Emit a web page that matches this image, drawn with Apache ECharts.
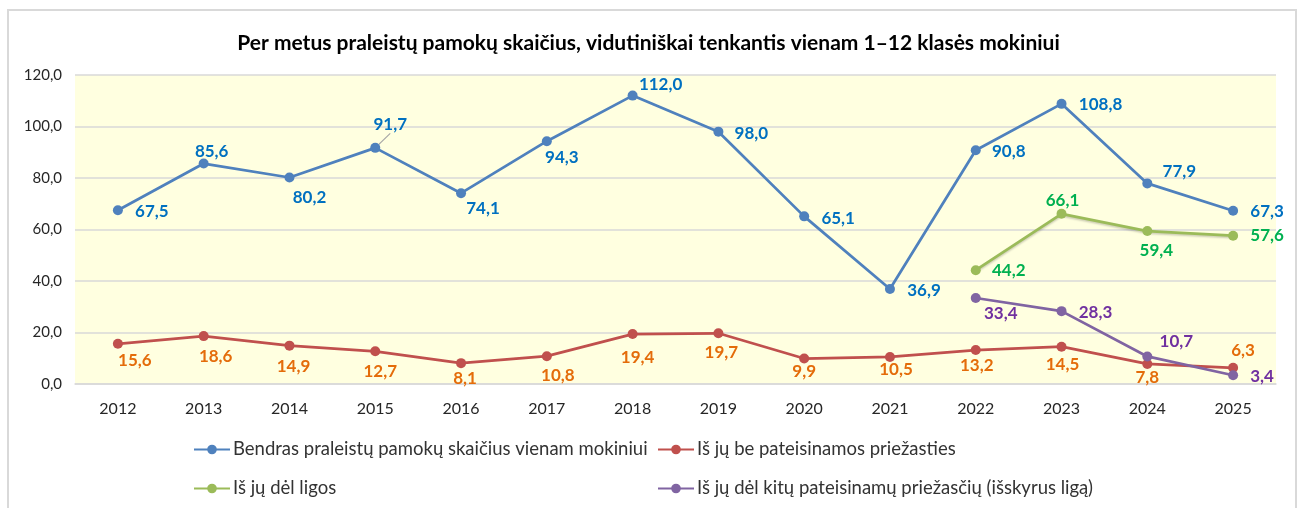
<!DOCTYPE html>
<html>
<head>
<meta charset="utf-8">
<title>Praleistos pamokos</title>
<script src="https://cdn.jsdelivr.net/npm/echarts@6/dist/echarts.min.js"></script>
<style>
  html, body { margin: 0; padding: 0; background: #ffffff; }
  #chart { width: 1297px; height: 508px; }
</style>
</head>
<body>
<div id="chart"></div>
<script>
// Years on the category axis
const years = ['2012','2013','2014','2015','2016','2017','2018','2019','2020','2021','2022','2023','2024','2025'];

// Lessons missed per student per year
const totalMissed   = [67.5, 85.6, 80.2, 91.7, 74.1, 94.3, 112.0, 98.0, 65.1, 36.9, 90.8, 108.8, 77.9, 67.3];
const unexcused     = [15.6, 18.6, 14.9, 12.7, 8.1, 10.8, 19.4, 19.7, 9.9, 10.5, 13.2, 14.5, 7.8, 6.3];
const illness       = [null, null, null, null, null, null, null, null, null, null, 44.2, 66.1, 59.4, 57.6];
const otherExcused  = [null, null, null, null, null, null, null, null, null, null, 33.4, 28.3, 10.7, 3.4];

// Y axis tick range
const yMin = 0, yMax = 120, yStep = 20;

const seriesNames = [
  'Bendras praleistų pamokų skaičius vienam mokiniui',
  'Iš jų be pateisinamos priežasties',
  'Iš jų dėl ligos',
  'Iš jų dėl kitų pateisinamų priežasčių (išskyrus ligą)'
];

// Label placement around each point, [dx, dy] from the marker centre
const totalOffsets = [[34,1],[8,-12],[20,20],[15,-23],[22,15],[15,16],[28,-11],[33,2],[34,2],[34,2],[33,1],[39,1],[32,-12],[34,1]];
const unexcusedOffsets = [[17,17],[12,20],[4,21],[5,20],[4,15],[11,19],[5,23],[3,19],[0,13],[6,13],[1,16],[1,18],[0,14],[10,-17]];
const illnessOffsets = [null,null,null,null,null,null,null,null,null,null,[33,0],[1,-13],[9,19],[34,0]];
const otherOffsets = [null,null,null,null,null,null,null,null,null,null,[25,16],[34,1],[29,-15],[29,1]];

// Points whose label is tied back to the marker with a short leader
const leaderPoints = { total: [3] };

const fmt = v => v.toFixed(1).replace('.', ',');
const FONT = 'Lato, "Open Sans", sans-serif';

function withLabels(values, offsets, color, leaders) {
  return values.map((v, i) => {
    if (v === null) return null;
    const item = {
      value: v,
      label: {
        show: true,
        position: 'inside',
        offset: offsets[i],
        formatter: p => fmt(p.value),
        color: color,
        fontFamily: FONT,
        fontWeight: 'bold',
        fontSize: 17
      }
    };
    if (leaders && leaders.indexOf(i) >= 0) {
      item.labelLine = { show: true, smooth: false, lineStyle: { color: '#a6a6a6', width: 1.2 } };
    }
    return item;
  });
}

function lineSeries(name, data, color, extra) {
  return Object.assign({
    name: name,
    type: 'line',
    data: data,
    symbol: 'circle',
    symbolSize: 10,
    connectNulls: false,
    lineStyle: { color: color, width: 2.75 },
    itemStyle: { color: color },
    emphasis: { disabled: true },
    z: 3
  }, extra || {});
}

const legendBase = {
  top: 440,
  orient: 'vertical',
  padding: 0,
  itemWidth: 36,
  itemHeight: 12,
  itemGap: 20,
  textStyle: { fontFamily: FONT, fontSize: 18.5, color: '#333333', padding: [0, 0, 0, -2] }
};

const chart = echarts.init(document.getElementById('chart'), null, { renderer: 'canvas' });

chart.setOption({
  animation: false,
  backgroundColor: '#ffffff',
  textStyle: { fontFamily: FONT },
  title: {
    text: 'Per metus praleistų pamokų skaičius, vidutiniškai tenkantis vienam 1–12 klasės mokiniui',
    left: 'center',
    top: 28,
    textStyle: { fontFamily: FONT, fontWeight: 'bold', fontSize: 21, color: '#000000' }
  },
  graphic: [{
    type: 'rect',
    shape: { x: 8, y: 10, width: 1288, height: 510 },
    style: { fill: 'none', stroke: '#d9d9d9', lineWidth: 2 },
    silent: true,
    z: -1
  }],
  legend: [
    Object.assign({ left: 193, data: [seriesNames[0], seriesNames[2]] }, legendBase),
    Object.assign({ left: 657, data: [seriesNames[1], seriesNames[3]] }, legendBase)
  ],
  grid: {
    left: 75,
    right: 21,
    top: 75,
    bottom: 124,
    show: true,
    backgroundColor: '#ffffe0',
    borderWidth: 0
  },
  xAxis: {
    type: 'category',
    data: years,
    boundaryGap: true,
    axisLine: { show: true, lineStyle: { color: '#d9d9d9', width: 1.5 } },
    axisTick: { show: false },
    axisLabel: { fontFamily: FONT, fontSize: 16, color: '#262626', margin: 17 }
  },
  yAxis: {
    type: 'value',
    min: yMin,
    max: yMax,
    interval: yStep,
    axisLine: { show: false },
    axisTick: { show: false },
    splitLine: { lineStyle: { color: '#d9d9d9', width: 1.5 } },
    axisLabel: { fontFamily: FONT, fontSize: 15, color: '#262626', margin: 13, formatter: v => fmt(v) }
  },
  series: [
    lineSeries(seriesNames[0], withLabels(totalMissed, totalOffsets, '#0070c0', leaderPoints.total), '#4f81bd'),
    lineSeries(seriesNames[1], withLabels(unexcused, unexcusedOffsets, '#e46c0a'), '#c0504d'),
    lineSeries(seriesNames[2], withLabels(illness, illnessOffsets, '#00b050'), '#9bbb59', {
      lineStyle: { color: '#9bbb59', width: 2.75, shadowColor: 'rgba(0,0,0,0.2)', shadowBlur: 2, shadowOffsetY: 1.5 }
    }),
    lineSeries(seriesNames[3], withLabels(otherExcused, otherOffsets, '#7030a0'), '#8064a2', { z: 4 })
  ]
});
</script>
</body>
</html>
